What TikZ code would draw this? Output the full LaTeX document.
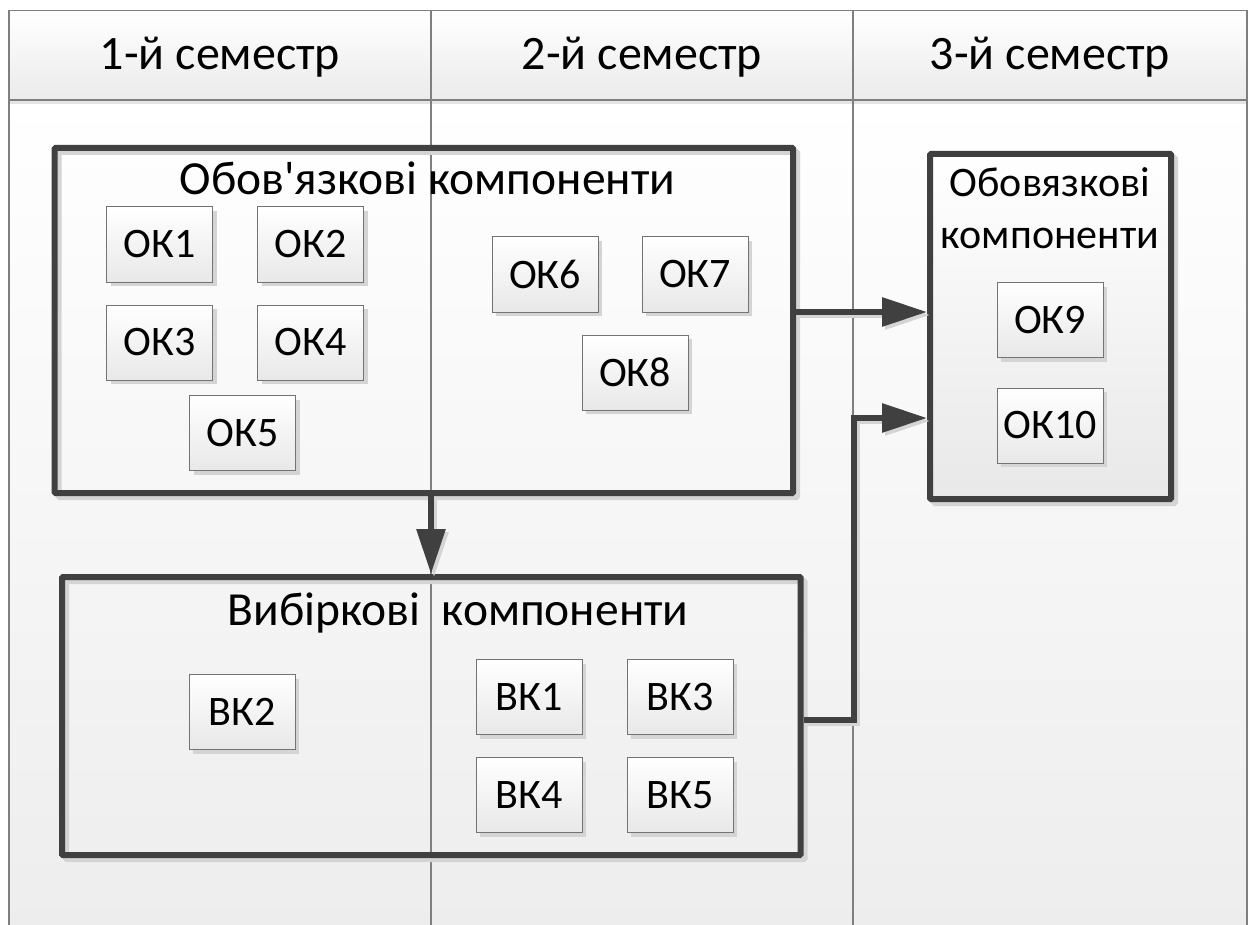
\documentclass[tikz,border=0pt]{standalone}
\usepackage{fontspec}
\setmainfont{Carlito}[Ligatures=TeXOff]
\usetikzlibrary{arrows.meta,shadows}
\definecolor{dk}{HTML}{404040}
\definecolor{lanel}{HTML}{7F7F7F}
\definecolor{shd}{HTML}{D4D4D4}
\begin{document}
\begin{tikzpicture}[x=1pt,y=-1pt,
  lane/.style={draw=lanel, line width=1.3pt},
  okbox/.style={draw=black!55, line width=1pt, top color=white, bottom color=black!9,
    minimum width=106pt, minimum height=75pt, inner sep=0pt,
    font=\fontsize{42}{50}\selectfont,
    drop shadow={shadow xshift=4pt, shadow yshift=-4pt, fill=shd, opacity=1}},
  group/.style={draw=dk, line width=6pt, inner sep=0pt, rounded corners=1pt},
  gshadow/.style={draw=shd, line width=6pt, rounded corners=1pt},
  conn/.style={draw=dk, line width=6pt, -{Triangle[length=45pt,width=28pt]}},
  connshadow/.style={draw=shd, line width=6pt, -{Triangle[length=45pt,width=28pt]}},
  headtxt/.style={anchor=base, font=\fontsize{48}{56}\selectfont},
  titletxt/.style={anchor=base, font=\fontsize{47.5}{56}\selectfont},
  b3txt/.style={anchor=base, font=\fontsize{42}{50}\selectfont}
]
\useasboundingbox (0,0) rectangle (1252,925);
% lanes background
\path[top color=white, bottom color=black!8] (9,10.7) rectangle (1247,100);
\path[top color=white, bottom color=black!7] (9,100) rectangle (1247,925);
\fill[black!10] (9,100) rectangle (1247,104);
\draw[lane] (9,925) -- (9,10.7) -- (1247,10.7) -- (1247,925);
\draw[lane] (9,100) -- (1247,100);
\draw[lane] (431,10.7) -- (431,925);
\draw[lane] (853,10.7) -- (853,925);
% headers
\node[headtxt] (h1) at (220,70) {1-й семестр};
\node[headtxt] (h2) at (642,70) {2-й семестр};
\node[headtxt] (h3) at (1050,70) {3-й семестр};

% group shadows
\draw[gshadow] (58.5,152) rectangle (797,497);
\draw[gshadow] (66,581) rectangle (804.5,859);
\draw[gshadow] (934,158) rectangle (1175,503);

% group boxes
\node[group, minimum width=738.5pt, minimum height=345pt] (box1) at (423.75,320.5) {};
\node[group, minimum width=738.5pt, minimum height=278pt] (box2) at (431.25,716) {};
\node[group, top color=white, bottom color=black!9, minimum width=241pt, minimum height=345pt] (box3) at (1050.5,326.5) {};

% titles
\node[titletxt] (t1) at (427.5,195) {Обов'язкові компоненти};
\node[titletxt] (t2) at (458,625) {Вибіркові\ \ компоненти};
\node[b3txt] (t3a) at (1050,197) {Обовязкові};
\node[b3txt] (t3b) at (1050,248) {компоненти};

% small boxes
\node[okbox] (ok1) at (159.5,244.5) {ОК1};
\node[okbox] (ok2) at (310.5,244.5) {ОК2};
\node[okbox] (ok3) at (159.5,342.5) {ОК3};
\node[okbox] (ok4) at (310.5,342.5) {ОК4};
\node[okbox] (ok5) at (242.5,433) {ОК5};
\node[okbox] (ok6) at (545,274.5) {ОК6};
\node[okbox] (ok7) at (695,274.5) {ОК7};
\node[okbox] (ok8) at (635,372.5) {ОК8};
\node[okbox] (ok9) at (1050,320) {ОК9};
\node[okbox] (ok10) at (1050,425.5) {ОК10};
\node[okbox] (vk2) at (242,712) {ВК2};
\node[okbox] (vk1) at (529,697) {ВК1};
\node[okbox] (vk3) at (680,697) {ВК3};
\node[okbox] (vk4) at (529,795) {ВК4};
\node[okbox] (vk5) at (680,795) {ВК5};

% connector shadows
\begin{scope}[transform canvas={xshift=3pt,yshift=-3pt}]
\draw[connshadow] (box1.east |- 0,312) -- (box3.west |- 0,312);
\draw[connshadow] (box2.east |- 0,720) -| (854,418) -- (box3.west |- 0,418);
\draw[connshadow] (box1.south -| 431,0) -- (box2.north -| 431,0);
\end{scope}
% connectors
\draw[conn] (box1.east |- 0,312) -- (box3.west |- 0,312);
\draw[conn] (box2.east |- 0,720) -| (854,418) -- (box3.west |- 0,418);
\draw[conn] (box1.south -| 431,0) -- (box2.north -| 431,0);
\end{tikzpicture}
\end{document}
